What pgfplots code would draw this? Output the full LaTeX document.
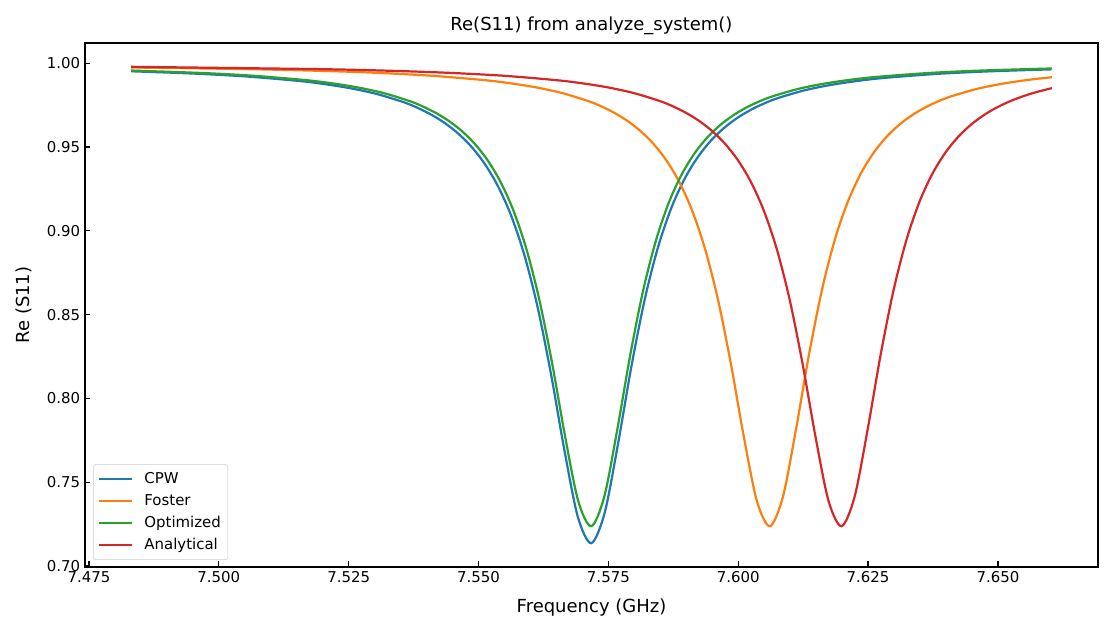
\documentclass[border=0pt]{standalone}
\usepackage{fontspec}
\setmainfont{DejaVu Sans}
\usepackage{pgfplots}
\pgfplotsset{compat=1.18}
\definecolor{c0}{HTML}{1F77B4}
\definecolor{c1}{HTML}{FF7F0E}
\definecolor{c2}{HTML}{2CA02C}
\definecolor{c3}{HTML}{D62728}
\begin{document}
\begin{tikzpicture}
\useasboundingbox (-0.85in,-0.66in) rectangle (10.28in,5.67in);
\begin{axis}[
  at={(0,0)}, anchor=south west,
  scale only axis, width=10.13in, height=5.24in,
  xmin=7.47423, xmax=7.66927, ymin=0.6994, ymax=1.0121,
  xtick={7.475,7.500,7.525,7.550,7.575,7.600,7.625,7.650},
  ytick={0.70,0.75,0.80,0.85,0.90,0.95,1.00},
  scaled x ticks=false, scaled y ticks=false,
  xticklabel style={/pgf/number format/.cd, fixed, fixed zerofill, precision=3, assume math mode=true},
  yticklabel style={/pgf/number format/.cd, fixed, fixed zerofill, precision=2, assume math mode=true},
  tick label style={font=\fontsize{10.8}{13}\selectfont},
  tick align=inside, xtick pos=left, ytick pos=left,
  major tick length=0.055in,
  tick style={black, line width=0.9pt},
  axis line style={line width=1.0pt},
  xlabel={Frequency (GHz)}, ylabel={Re (S11)},
  title={Re(S11) from analyze\_system()},
  label style={font=\fontsize{13}{15}\selectfont},
  title style={font=\fontsize{13}{15}\selectfont, at={(axis description cs:0.5,1.0172)}, anchor=center, yshift=0pt},
  xlabel style={at={(axis description cs:0.5,-0.0782)}, anchor=center},
  ylabel style={at={(axis description cs:-0.0602,0.5)}, anchor=center},
  legend style={at={(axis description cs:0.0079,0.0134)}, anchor=south west,
    draw=black!20, rounded corners=2pt, fill=white, fill opacity=0.8, text opacity=1,
    font=\fontsize{10.8}{13}\selectfont, inner xsep=3pt, inner ysep=4pt,
    row sep=2.2pt},
  legend cell align=left,
  legend image code/.code={\draw[#1] (0in,0in) -- (0.33in,0in); \path (0.42in,0in);},
  every axis plot/.append style={line width=1.6pt, smooth, no markers},
]
\addplot[c0] coordinates {
(7.48312,0.99522) (7.49445,0.99394) (7.50475,0.99224) (7.51505,0.98957) (7.52020,0.98764)
(7.52535,0.98508) (7.53050,0.98160) (7.53565,0.97670) (7.538225,0.97346) (7.54080,0.96950)
(7.543375,0.96459) (7.54595,0.95843) (7.548525,0.95057)
(7.55110,0.94040) (7.553675,0.92705) (7.55625,0.90929) (7.558825,0.88555) (7.56140,0.85410)
(7.563975,0.81416) (7.56655,0.76880) (7.569125,0.72924) (7.57170,0.71360) (7.574275,0.73160)
(7.57685,0.77280) (7.579425,0.81896) (7.58200,0.85910) (7.584575,0.89043) (7.58715,0.91391)
(7.589725,0.93135) (7.59230,0.94440) (7.594875,0.95429) (7.59745,0.96187) (7.600025,0.96781)
(7.60260,0.97250) (7.605175,0.97627) (7.60775,0.97934) (7.61290,0.98396) (7.61805,0.98720)
(7.62320,0.98956) (7.62835,0.99133) (7.63865,0.99374) (7.64895,0.99526) (7.66028,0.99636)
};
\addlegendentry{CPW}
\addplot[c1] coordinates {
(7.4831,0.99749) (7.5061,0.99647) (7.5211,0.99534) (7.5311,0.99421) (7.5411,0.99254)
(7.5511,0.98995) (7.5561,0.98808) (7.5611,0.98560) (7.5661,0.98222) (7.5711,0.97747)
(7.5736,0.97433) (7.5761,0.97050) (7.5786,0.96575)
(7.5811,0.95978) (7.5836,0.95218) (7.5861,0.94235) (7.5886,0.92944) (7.5911,0.91229)
(7.5936,0.88936) (7.5961,0.85900) (7.5986,0.82047) (7.6011,0.77675) (7.6036,0.73869)
(7.6061,0.72375) (7.6086,0.74128) (7.6111,0.78115) (7.6136,0.82575) (7.6161,0.86450)
(7.6186,0.89473) (7.6211,0.91737) (7.6236,0.93418) (7.6261,0.94675) (7.6286,0.95627)
(7.6311,0.96358) (7.6336,0.96928) (7.6361,0.97380) (7.6386,0.97743) (7.6411,0.98037)
(7.6461,0.98481) (7.6511,0.98793) (7.6561,0.99019) (7.6604,0.99168)
};
\addlegendentry{Foster}
\addplot[c2] coordinates {
(7.4831,0.99567) (7.4967,0.99421) (7.5067,0.99254) (7.5167,0.98995) (7.5217,0.98808)
(7.5267,0.98560) (7.5317,0.98222) (7.5367,0.97747) (7.5392,0.97433) (7.5417,0.97050)
(7.5442,0.96575) (7.5467,0.95978) (7.5492,0.95218)
(7.5517,0.94235) (7.5542,0.92944) (7.5567,0.91229) (7.5592,0.88936) (7.5617,0.85900)
(7.5642,0.82047) (7.5667,0.77675) (7.5692,0.73869) (7.5717,0.72375) (7.5742,0.74128)
(7.5767,0.78115) (7.5792,0.82575) (7.5817,0.86450) (7.5842,0.89473) (7.5867,0.91737)
(7.5892,0.93418) (7.5917,0.94675) (7.5942,0.95627) (7.5967,0.96358) (7.5992,0.96928)
(7.6017,0.97380) (7.6042,0.97743) (7.6067,0.98037) (7.6117,0.98481) (7.6167,0.98793)
(7.6217,0.99019) (7.6267,0.99189) (7.6367,0.99420) (7.6467,0.99565) (7.6604,0.99690)
};
\addlegendentry{Optimized}
\addplot[c3] coordinates {
(7.4831,0.99788) (7.5199,0.99647) (7.5349,0.99534) (7.5449,0.99421) (7.5549,0.99254)
(7.5649,0.98995) (7.5699,0.98808) (7.5749,0.98560) (7.5799,0.98222) (7.5849,0.97747)
(7.5874,0.97433) (7.5899,0.97050) (7.5924,0.96575)
(7.5949,0.95978) (7.5974,0.95218) (7.5999,0.94235) (7.6024,0.92944) (7.6049,0.91229)
(7.6074,0.88936) (7.6099,0.85900) (7.6124,0.82047) (7.6149,0.77675) (7.6174,0.73869)
(7.6199,0.72375) (7.6224,0.74128) (7.6249,0.78115) (7.6274,0.82575) (7.6299,0.86450)
(7.6324,0.89473) (7.6349,0.91737) (7.6374,0.93418) (7.6399,0.94675) (7.6424,0.95627)
(7.6449,0.96358) (7.6474,0.96928) (7.6499,0.97380) (7.6524,0.97743) (7.6549,0.98037)
(7.6574,0.98280) (7.6604,0.98517)
};
\addlegendentry{Analytical}
\end{axis}
\end{tikzpicture}
\end{document}
